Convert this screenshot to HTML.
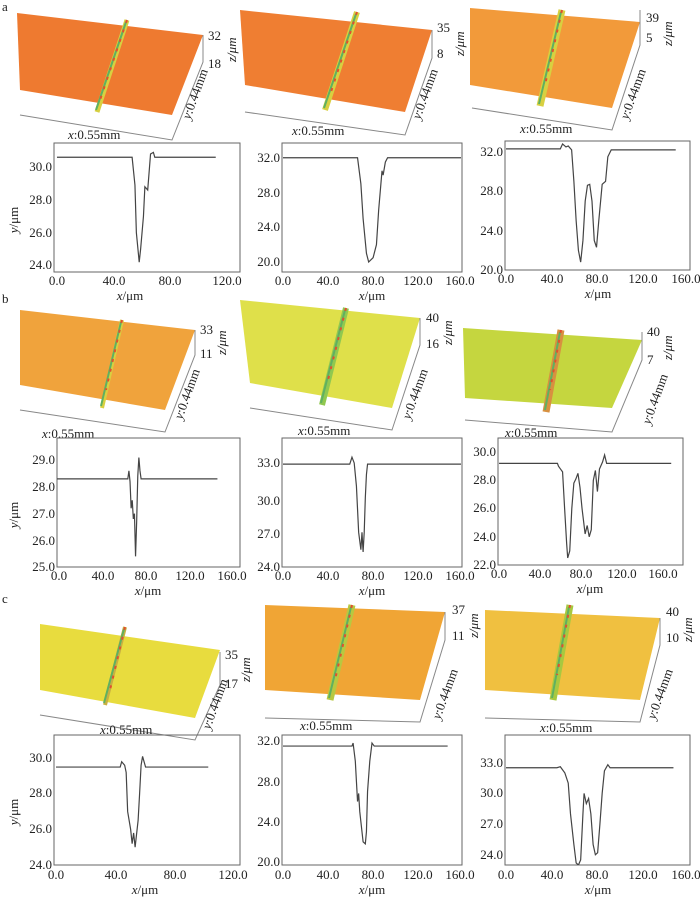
<!DOCTYPE html>
<html><head><meta charset="utf-8"><style>
html,body{margin:0;padding:0;background:#fff}
svg{display:block}
text{font-family:"Liberation Serif",serif;font-size:13px;fill:#222}
.f{fill:none;stroke:#666;stroke-width:1}
.d{fill:none;stroke:#444;stroke-width:1.2}
.ax{stroke:#888;stroke-width:1;fill:none}
.s1{stroke:#d8d040;fill:none}
.s2{stroke:#60b060;fill:none;stroke-width:2}
.s3{stroke:#e05030;fill:none;stroke-width:2;stroke-dasharray:3 7}
</style></head><body>
<svg width="700" height="904" viewBox="0 0 700 904" xmlns="http://www.w3.org/2000/svg">
<text x="2" y="11">a</text><text x="2" y="303">b</text><text x="2" y="603">c</text>

<g>
<polygon points="17,13 203,35 172,115 20,90" fill="#ee7a30"/>
<polyline class="s1" stroke-width="5" points="127,20 97,112"/><polyline class="s2" points="126,22 96,110"/><polyline class="s3" points="127,20 100,100"/>
<polyline class="ax" points="20,115 172,140 203,62 203,35"/>
<text x="208" y="40">32</text><text x="208" y="68">18</text>
<text transform="translate(236,62) rotate(-90)" font-style="italic">z/μm</text>
<text transform="translate(190,120) rotate(-70)"><tspan font-style="italic">y</tspan>:0.44mm</text>
<text x="68" y="139"><tspan font-style="italic">x</tspan>:0.55mm</text>

<polygon points="240,10 432,30 405,112 245,85" fill="#ef7e32"/>
<polyline class="s1" stroke-width="6" points="357,12 325,110"/><polyline class="s2" points="356,14 324,108"/><polyline class="s3" points="357,12 330,95"/>
<polyline class="ax" points="245,112 405,135 432,58 432,30"/>
<text x="437" y="32">35</text><text x="437" y="58">8</text>
<text transform="translate(464,56) rotate(-90)" font-style="italic">z/μm</text>
<text transform="translate(420,120) rotate(-70)"><tspan font-style="italic">y</tspan>:0.44mm</text>
<text x="292" y="135"><tspan font-style="italic">x</tspan>:0.55mm</text>

<polygon points="470,8 640,22 612,108 470,85" fill="#f29a3a"/>
<polyline class="s1" stroke-width="7" points="562,10 540,106"/><polyline class="s2" stroke-width="3" points="561,12 539,104"/><polyline class="s3" points="562,10 545,85"/>
<polyline class="ax" points="472,108 612,130 640,45 640,10"/>
<text x="646" y="22">39</text><text x="646" y="42">5</text>
<text transform="translate(672,46) rotate(-90)" font-style="italic">z/μm</text>
<text transform="translate(628,120) rotate(-70)"><tspan font-style="italic">y</tspan>:0.44mm</text>
<text x="520" y="133"><tspan font-style="italic">x</tspan>:0.55mm</text>

<polygon points="20,310 195,330 165,410 20,385" fill="#f0a33c"/>
<polyline class="s1" stroke-width="4" points="122,320 102,408"/><polyline class="s2" points="121,322 101,406"/><polyline class="s3" points="122,320 106,390"/>
<polyline class="ax" points="20,410 165,432 195,355 195,330"/>
<text x="200" y="334">33</text><text x="200" y="358">11</text>
<text transform="translate(226,355) rotate(-90)" font-style="italic">z/μm</text>
<text transform="translate(182,420) rotate(-70)"><tspan font-style="italic">y</tspan>:0.44mm</text>
<text x="42" y="438"><tspan font-style="italic">x</tspan>:0.55mm</text>

<polygon points="240,300 420,318 392,408 250,383" fill="#dfe04a"/>
<polyline stroke="#90c850" stroke-width="6" fill="none" points="346,308 322,405"/><polyline class="s2" stroke-width="3" points="345,310 321,403"/><polyline class="s3" points="346,308 328,380"/>
<polyline class="ax" points="250,408 392,430 420,345 420,318"/>
<text x="426" y="322">40</text><text x="426" y="348">16</text>
<text transform="translate(452,345) rotate(-90)" font-style="italic">z/μm</text>
<text transform="translate(410,420) rotate(-70)"><tspan font-style="italic">y</tspan>:0.44mm</text>
<text x="298" y="435"><tspan font-style="italic">x</tspan>:0.55mm</text>

<polygon points="463,328 642,340 612,408 465,398" fill="#c5d63f"/>
<polyline stroke="#d89040" stroke-width="7" fill="none" points="561,330 546,412"/><polyline class="s2" stroke-width="3" points="560,332 545,410"/><polyline class="s3" points="561,330 550,390"/>
<polyline class="ax" points="465,420 612,432 642,360 642,332"/>
<text x="647" y="336">40</text><text x="647" y="364">7</text>
<text transform="translate(672,360) rotate(-90)" font-style="italic">z/μm</text>
<text transform="translate(650,425) rotate(-70)"><tspan font-style="italic">y</tspan>:0.44mm</text>
<text x="505" y="437"><tspan font-style="italic">x</tspan>:0.55mm</text>

<polygon points="40,624 220,650 195,718 40,690" fill="#e8dc3e"/>
<polyline stroke="#c8b040" stroke-width="4" fill="none" points="125,627 105,705"/><polyline class="s2" points="124,629 104,703"/><polyline class="s3" points="125,627 110,690"/>
<polyline class="ax" points="40,715 195,740 220,685 220,652"/>
<text x="225" y="659">35</text><text x="225" y="688">17</text>
<text transform="translate(250,682) rotate(-90)" font-style="italic">z/μm</text>
<text transform="translate(210,730) rotate(-70)"><tspan font-style="italic">y</tspan>:0.44mm</text>
<text x="100" y="734"><tspan font-style="italic">x</tspan>:0.55mm</text>

<polygon points="265,605 445,612 420,700 265,690" fill="#f0a535"/>
<polyline stroke="#b8c840" stroke-width="7" fill="none" points="352,605 330,700"/><polyline class="s2" stroke-width="3" points="351,607 329,698"/><polyline class="s3" points="352,605 335,680"/>
<polyline class="ax" points="265,718 420,722 445,640 445,612"/>
<text x="452" y="614">37</text><text x="452" y="640">11</text>
<text transform="translate(478,638) rotate(-90)" font-style="italic">z/μm</text>
<text transform="translate(440,720) rotate(-70)"><tspan font-style="italic">y</tspan>:0.44mm</text>
<text x="300" y="730"><tspan font-style="italic">x</tspan>:0.55mm</text>

<polygon points="485,610 660,618 640,700 485,690" fill="#f0c040"/>
<polyline stroke="#a8c840" stroke-width="7" fill="none" points="570,605 553,700"/><polyline class="s2" stroke-width="3" points="569,607 552,698"/><polyline class="s3" points="570,605 557,675"/>
<polyline class="ax" points="485,718 640,722 660,645 660,618"/>
<text x="666" y="616">40</text><text x="666" y="642">10</text>
<text transform="translate(692,642) rotate(-90)" font-style="italic">z/μm</text>
<text transform="translate(655,720) rotate(-70)"><tspan font-style="italic">y</tspan>:0.44mm</text>
<text x="540" y="732"><tspan font-style="italic">x</tspan>:0.55mm</text>
</g>

<rect class="f" x="54" y="143" width="186" height="129"/>
<svg x="54" y="143" width="186" height="129" viewBox="-2.1 -31.47 131.2 7.87" preserveAspectRatio="none">
<polyline class="d" vector-effect="non-scaling-stroke" points="0,-30.6 53,-30.6 55,-28.9 56,-26 58,-24.2 59,-25 61,-27 62,-28.8 64,-28.6 66,-30.8 68,-30.9 69,-30.6 112,-30.6"/></svg>
<g text-anchor="middle"><text x="57" y="285">0.0</text><text x="114" y="285">40.0</text><text x="170" y="285">80.0</text><text x="227" y="285">120.0</text></g>
<g text-anchor="end"><text x="52" y="171">30.0</text><text x="52" y="204">28.0</text><text x="52" y="237">26.0</text><text x="52" y="269">24.0</text></g>
<text x="130" y="300" text-anchor="middle"><tspan font-style="italic">x</tspan>/μm</text>
<text transform="translate(18,220) rotate(-90)" text-anchor="middle"><tspan font-style="italic">y</tspan>/μm</text>

<rect class="f" x="282" y="143" width="180" height="129"/>
<svg x="282" y="143" width="180" height="129" viewBox="-0.9 -33.7 161.8 14.85" preserveAspectRatio="none">
<polyline class="d" vector-effect="non-scaling-stroke" points="0,-32 67,-32 70,-29 72,-25 75,-21 77,-20 81,-20.5 84,-22 86,-26 88,-29 89,-30.5 90,-30 92,-31.5 94,-32 160,-32"/></svg>
<g text-anchor="middle"><text x="283" y="285">0.0</text><text x="328" y="285">40.0</text><text x="373" y="285">80.0</text><text x="418" y="285">120.0</text><text x="460" y="285">160.0</text></g>
<g text-anchor="end"><text x="280" y="162">32.0</text><text x="280" y="197">28.0</text><text x="280" y="231">24.0</text><text x="280" y="266">20.0</text></g>
<text x="372" y="300" text-anchor="middle"><tspan font-style="italic">x</tspan>/μm</text>

<rect class="f" x="505" y="141" width="185" height="129"/>
<svg x="505" y="141" width="185" height="129" viewBox="-0.88 -33.1 163.5 13.1" preserveAspectRatio="none">
<polyline class="d" vector-effect="non-scaling-stroke" points="0,-32.3 48,-32.3 50,-32.8 53,-32.5 55,-32.6 58,-32.2 60,-29 62,-25 64,-22 66,-20.8 68,-23 70,-27 72,-28.6 74,-28.7 76,-27 78,-23 80,-22.3 82,-25 85,-28.7 88,-29 90,-31.5 93,-32.2 150,-32.2"/></svg>
<g text-anchor="middle"><text x="506" y="283">0.0</text><text x="552" y="283">40.0</text><text x="597" y="283">80.0</text><text x="643" y="283">120.0</text><text x="686" y="283">160.0</text></g>
<g text-anchor="end"><text x="503" y="156">32.0</text><text x="503" y="195">28.0</text><text x="503" y="235">24.0</text><text x="503" y="274">20.0</text></g>
<text x="598" y="298" text-anchor="middle"><tspan font-style="italic">x</tspan>/μm</text>

<rect class="f" x="57" y="438" width="183" height="129"/>
<svg x="57" y="438" width="183" height="129" viewBox="0 -29.83 165.4 4.83" preserveAspectRatio="none">
<polyline class="d" vector-effect="non-scaling-stroke" points="0,-28.3 64,-28.3 65,-28.6 66,-28.2 67,-27.2 68,-27.5 69,-26.8 70,-27 71,-25.4 72,-26.7 73,-28.4 74,-29.1 75,-28.6 76,-28.3 145,-28.3"/></svg>
<g text-anchor="middle"><text x="59" y="580">0.0</text><text x="103" y="580">40.0</text><text x="146" y="580">80.0</text><text x="190" y="580">120.0</text><text x="232" y="580">160.0</text></g>
<g text-anchor="end"><text x="55" y="464">29.0</text><text x="55" y="491">28.0</text><text x="55" y="518">27.0</text><text x="55" y="545">26.0</text><text x="55" y="571">25.0</text></g>
<text x="148" y="595" text-anchor="middle"><tspan font-style="italic">x</tspan>/μm</text>
<text transform="translate(18,515) rotate(-90)" text-anchor="middle"><tspan font-style="italic">y</tspan>/μm</text>

<rect class="f" x="282" y="438" width="180" height="129"/>
<svg x="282" y="438" width="180" height="129" viewBox="-0.9 -35.16 161.8 11.16" preserveAspectRatio="none">
<polyline class="d" vector-effect="non-scaling-stroke" points="0,-32.9 60,-32.9 62,-33.5 64,-33 66,-31 67,-29 68,-27 70,-25.5 71,-27 72,-25.3 73,-27 74,-30 75,-32 76,-32.9 160,-32.9"/></svg>
<g text-anchor="middle"><text x="283" y="580">0.0</text><text x="328" y="580">40.0</text><text x="373" y="580">80.0</text><text x="418" y="580">120.0</text><text x="460" y="580">160.0</text></g>
<g text-anchor="end"><text x="280" y="467">33.0</text><text x="280" y="505">30.0</text><text x="280" y="538">27.0</text><text x="280" y="571">24.0</text></g>
<text x="372" y="595" text-anchor="middle"><tspan font-style="italic">x</tspan>/μm</text>

<rect class="f" x="498" y="438" width="185" height="127"/>
<svg x="498" y="438" width="185" height="127" viewBox="-1 -31 180.5 9" preserveAspectRatio="none">
<polyline class="d" vector-effect="non-scaling-stroke" points="0,-29.2 57,-29.2 58,-29 60,-28.8 62,-28.6 64,-26 66,-23.5 67,-22.5 69,-23 71,-26 73,-27.8 75,-28.1 77,-28.5 79,-27.5 81,-26 84,-24.2 86,-24.8 88,-24 90,-24.5 92,-28 94,-28.7 96,-27.2 98,-28.8 101,-29.3 103,-29.8 105,-29.2 168,-29.2"/></svg>
<g text-anchor="middle"><text x="499" y="578">0.0</text><text x="540" y="578">40.0</text><text x="581" y="578">80.0</text><text x="622" y="578">120.0</text><text x="663" y="578">160.0</text></g>
<g text-anchor="end"><text x="496" y="456">30.0</text><text x="496" y="484">28.0</text><text x="496" y="512">26.0</text><text x="496" y="541">24.0</text><text x="496" y="569">22.0</text></g>
<text x="590" y="593" text-anchor="middle"><tspan font-style="italic">x</tspan>/μm</text>

<rect class="f" x="54" y="735" width="186" height="130"/>
<svg x="54" y="735" width="186" height="130" viewBox="-1.34 -31.3 124.6 7.3" preserveAspectRatio="none">
<polyline class="d" vector-effect="non-scaling-stroke" points="0,-29.5 43,-29.5 44,-29.8 46,-29.6 47,-29.2 48,-27 50,-26 51,-25.2 52,-25.8 53,-25 55,-26.5 56,-28 57,-29.6 58,-30.1 60,-29.5 102,-29.5"/></svg>
<g text-anchor="middle"><text x="56" y="879">0.0</text><text x="116" y="879">40.0</text><text x="175" y="879">80.0</text><text x="233" y="879">120.0</text></g>
<g text-anchor="end"><text x="52" y="762">30.0</text><text x="52" y="797">28.0</text><text x="52" y="833">26.0</text><text x="52" y="869">24.0</text></g>
<text x="145" y="894" text-anchor="middle"><tspan font-style="italic">x</tspan>/μm</text>
<text transform="translate(18,812) rotate(-90)" text-anchor="middle"><tspan font-style="italic">y</tspan>/μm</text>

<rect class="f" x="282" y="735" width="180" height="130"/>
<svg x="282" y="735" width="180" height="130" viewBox="-0.9 -32.6 161.8 12.9" preserveAspectRatio="none">
<polyline class="d" vector-effect="non-scaling-stroke" points="0,-31.5 62,-31.5 63,-31.8 65,-30 66,-28 67,-26 68,-26.8 69,-25 70,-24 72,-22 74,-21.8 75,-23 76,-27 78,-30 80,-31.8 82,-31.5 148,-31.5"/></svg>
<g text-anchor="middle"><text x="283" y="879">0.0</text><text x="328" y="879">40.0</text><text x="373" y="879">80.0</text><text x="418" y="879">120.0</text><text x="460" y="879">160.0</text></g>
<g text-anchor="end"><text x="280" y="745">32.0</text><text x="280" y="786">28.0</text><text x="280" y="826">24.0</text><text x="280" y="866">20.0</text></g>
<text x="372" y="894" text-anchor="middle"><tspan font-style="italic">x</tspan>/μm</text>

<rect class="f" x="505" y="735" width="185" height="130"/>
<svg x="505" y="735" width="185" height="130" viewBox="-0.88 -35.7 163.5 12.7" preserveAspectRatio="none">
<polyline class="d" vector-effect="non-scaling-stroke" points="0,-32.5 45,-32.5 48,-32.6 52,-32 55,-31 57,-28 60,-25 62,-23.2 64,-23 66,-23.5 68,-28 69,-30 71,-29 73,-29.5 75,-28 77,-25 79,-24 81,-24.2 83,-27 85,-30 87,-32.2 90,-32.8 92,-32.5 148,-32.5"/></svg>
<g text-anchor="middle"><text x="506" y="879">0.0</text><text x="552" y="879">40.0</text><text x="597" y="879">80.0</text><text x="643" y="879">120.0</text><text x="686" y="879">160.0</text></g>
<g text-anchor="end"><text x="503" y="767">33.0</text><text x="503" y="797">30.0</text><text x="503" y="828">27.0</text><text x="503" y="859">24.0</text></g>
<text x="598" y="894" text-anchor="middle"><tspan font-style="italic">x</tspan>/μm</text>
</svg>
</body></html>
